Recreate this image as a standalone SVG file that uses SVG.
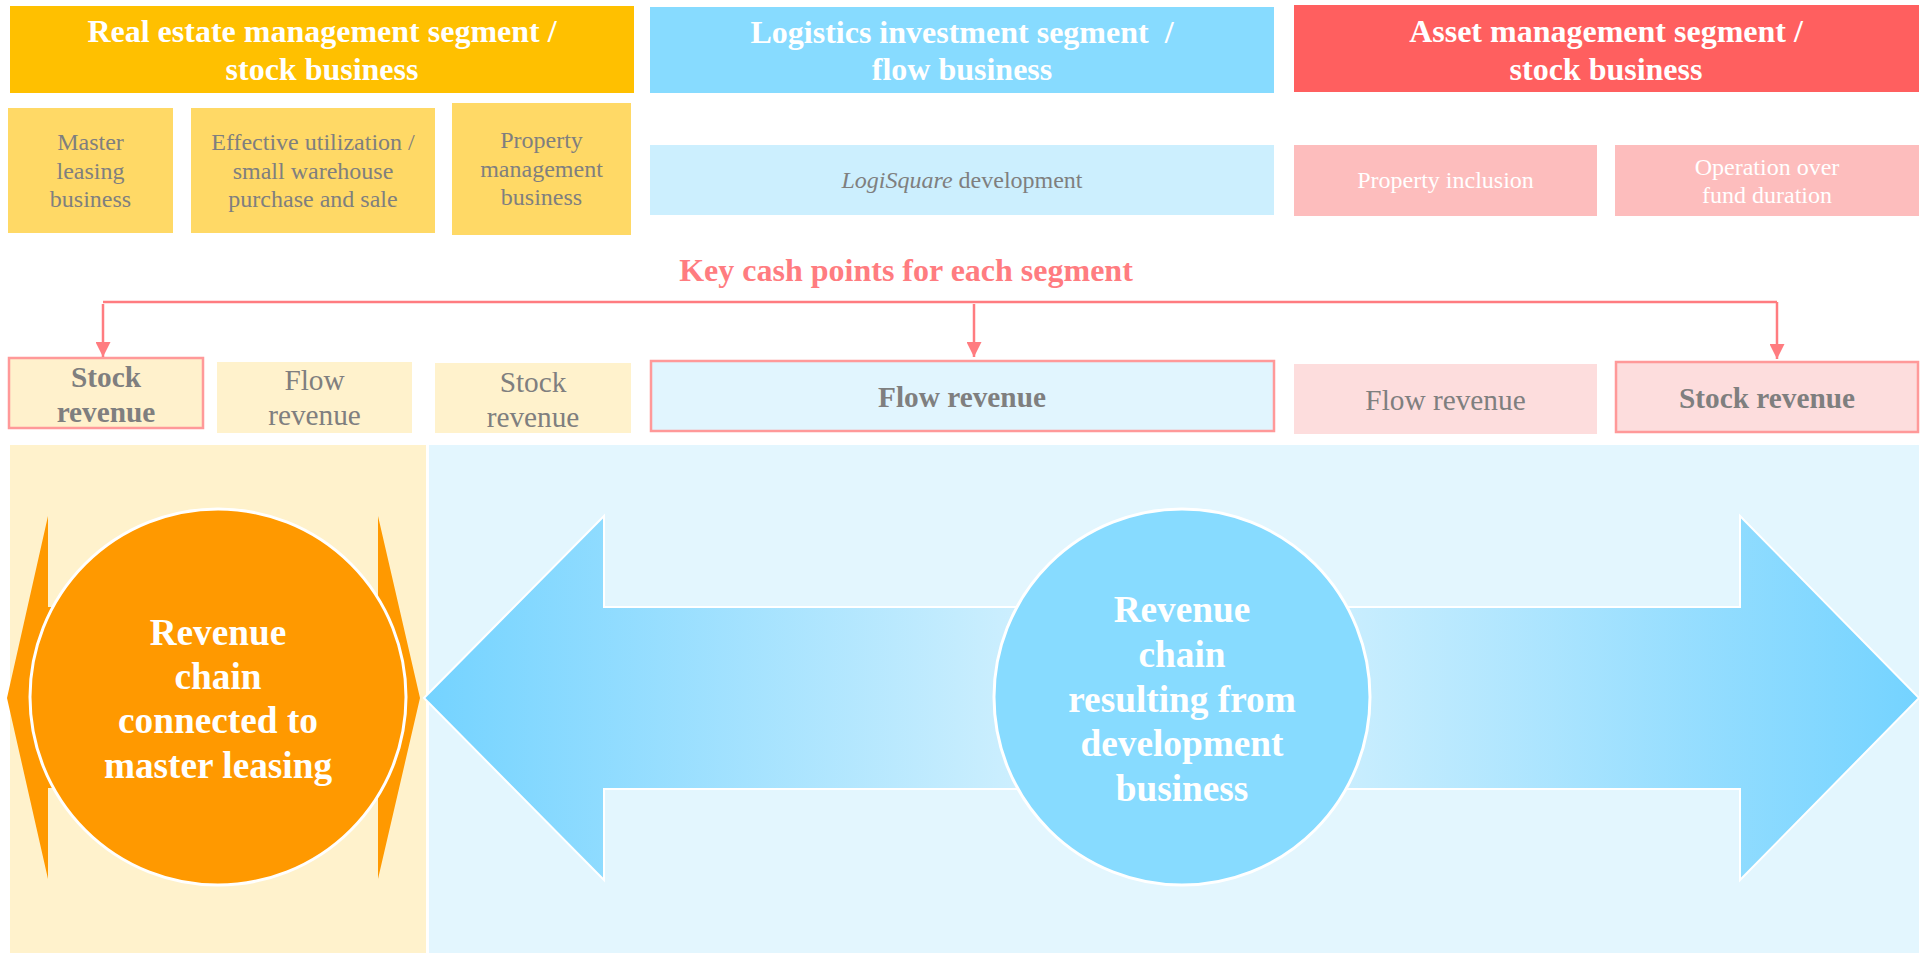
<svg xmlns="http://www.w3.org/2000/svg" width="1923" height="953" viewBox="0 0 1923 953">
<defs>
<style>
text{font-family:"Liberation Serif","Times New Roman",serif;text-anchor:middle}
.hd{font-size:32px;font-weight:bold;fill:#FFFFFF}
.sub{font-size:24px;fill:#7F7F7F}
.subw{font-size:24px;fill:#FFFFFF}
.rev{font-size:29.3px;fill:#7F7F7F}
.revb{font-size:29.3px;fill:#7F7F7F;font-weight:bold}
.big{font-size:37.3px;font-weight:bold;fill:#FFFFFF}
.key{font-size:32px;font-weight:bold;fill:#FF7C80}
.hot{stroke:#FF9999;stroke-width:2.5}
.conn{stroke:#FF7C80;stroke-width:2.5;fill:none}
</style>
<marker id="ah" viewBox="0 0 10 10" refX="10" refY="5" markerWidth="6" markerHeight="6" markerUnits="strokeWidth" orient="auto">
<path d="M0,0 L10,5 L0,10 Z" fill="#FF7C80"/>
</marker>
<linearGradient id="bg" x1="424" y1="0" x2="1919" y2="0" gradientUnits="userSpaceOnUse">
<stop offset="0" stop-color="#74D3FF"/>
<stop offset="0.4" stop-color="#CDEFFE"/>
<stop offset="0.6" stop-color="#CDEFFE"/>
<stop offset="1" stop-color="#74D3FF"/>
</linearGradient>
</defs>
<rect width="1923" height="953" fill="#FFFFFF"/>

<g id="seg-realestate">
<rect x="10" y="6" width="624" height="87" fill="#FFC000"/>
<text class="hd" x="322" y="42">Real estate management segment /</text>
<text class="hd" x="322" y="80">stock business</text>
</g>
<g id="seg-logistics">
<rect x="650" y="7" width="624" height="86" fill="#87DBFF"/>
<text class="hd" x="962" y="43" xml:space="preserve">Logistics investment segment  /</text>
<text class="hd" x="962" y="80">flow business</text>
</g>
<g id="seg-asset">
<rect x="1294" y="5" width="625" height="87" fill="#FF5F5F"/>
<text class="hd" x="1606" y="42">Asset management segment /</text>
<text class="hd" x="1606" y="80">stock business</text>
</g>

<g id="master-leasing">
<rect x="8" y="108" width="165" height="125" fill="#FFD966"/>
<text class="sub" x="90.5" y="150">Master</text>
<text class="sub" x="90.5" y="179">leasing</text>
<text class="sub" x="90.5" y="207">business</text>
</g>
<g id="effective-utilization">
<rect x="191" y="108" width="244" height="125" fill="#FFD966"/>
<text class="sub" x="313" y="150">Effective utilization /</text>
<text class="sub" x="313" y="179">small warehouse</text>
<text class="sub" x="313" y="207">purchase and sale</text>
</g>
<g id="property-management">
<rect x="452" y="103" width="179" height="132" fill="#FFD966"/>
<text class="sub" x="541.5" y="148">Property</text>
<text class="sub" x="541.5" y="177">management</text>
<text class="sub" x="541.5" y="205">business</text>
</g>
<g id="logisquare">
<rect x="650" y="145" width="624" height="70" fill="#CCEFFE"/>
<text class="sub" x="962" y="188"><tspan font-style="italic">LogiSquare</tspan> development</text>
</g>
<g id="property-inclusion">
<rect x="1294" y="145" width="303" height="71" fill="#FDBDBD"/>
<text class="subw" x="1445.5" y="188">Property inclusion</text>
</g>
<g id="operation-fund">
<rect x="1615" y="145" width="304" height="71" fill="#FDBDBD"/>
<text class="subw" x="1767" y="175">Operation over</text>
<text class="subw" x="1767" y="203">fund duration</text>
</g>

<g id="key-cash-label">
<text class="key" x="906" y="281">Key cash points for each segment</text>
</g>

<g id="rev-stock-1">
<rect x="9" y="358" width="194" height="70" fill="#FFF1CC" class="hot"/>
<text class="revb" x="106" y="387">Stock</text>
<text class="revb" x="106" y="422">revenue</text>
</g>
<g id="rev-flow-2">
<rect x="217" y="362" width="195" height="71" fill="#FFF2CC"/>
<text class="rev" x="314.5" y="390">Flow</text>
<text class="rev" x="314.5" y="425">revenue</text>
</g>
<g id="rev-stock-3">
<rect x="435" y="363" width="196" height="70" fill="#FFF2CC"/>
<text class="rev" x="533" y="392">Stock</text>
<text class="rev" x="533" y="427">revenue</text>
</g>
<g id="rev-flow-logistics">
<rect x="651" y="361" width="623" height="70" fill="#E1F5FE" class="hot"/>
<text class="revb" x="962" y="407">Flow revenue</text>
</g>
<g id="rev-flow-asset">
<rect x="1294" y="364" width="303" height="70" fill="#FDDDDD"/>
<text class="rev" x="1445.5" y="410">Flow revenue</text>
</g>
<g id="rev-stock-asset">
<rect x="1616" y="362" width="302" height="70" fill="#FDDDDD" class="hot"/>
<text class="revb" x="1767" y="408">Stock revenue</text>
</g>

<g id="connectors">
<polyline class="conn" points="103,302 1777,302"/>
<line class="conn" x1="103" y1="304" x2="103" y2="357" marker-end="url(#ah)"/>
<line class="conn" x1="974" y1="304" x2="974" y2="357" marker-end="url(#ah)"/>
<line class="conn" x1="1777" y1="302" x2="1777" y2="359" marker-end="url(#ah)"/>
</g>

<g id="panel-left">
<rect x="10" y="445" width="416" height="508" fill="#FFF2CC"/>
</g>
<g id="panel-right">
<rect x="429" y="445" width="1490" height="508" fill="#E3F6FE"/>
</g>

<g id="arrow-orange">
<polygon points="7,698 48,516 48,607 378,607 378,516 420,698 378,879 378,788 48,788 48,879" fill="#FF9900"/>
</g>
<g id="arrow-blue">
<polygon points="424,698 604,516 604,607 1740,607 1740,516 1919,698 1740,880 1740,789 604,789 604,880" fill="url(#bg)" stroke="#FFFFFF" stroke-width="2"/>
</g>

<g id="circle-master-leasing">
<circle cx="218" cy="697" r="188" fill="#FF9900" stroke="#FFFFFF" stroke-width="3"/>
<text class="big" x="218" y="645">Revenue</text>
<text class="big" x="218" y="689">chain</text>
<text class="big" x="218" y="733">connected to</text>
<text class="big" x="218" y="778">master leasing</text>
</g>
<g id="circle-development">
<circle cx="1182" cy="697" r="188" fill="#87DBFF" stroke="#FFFFFF" stroke-width="3"/>
<text class="big" x="1182" y="622">Revenue</text>
<text class="big" x="1182" y="667">chain</text>
<text class="big" x="1182" y="712">resulting from</text>
<text class="big" x="1182" y="756">development</text>
<text class="big" x="1182" y="801">business</text>
</g>
</svg>
